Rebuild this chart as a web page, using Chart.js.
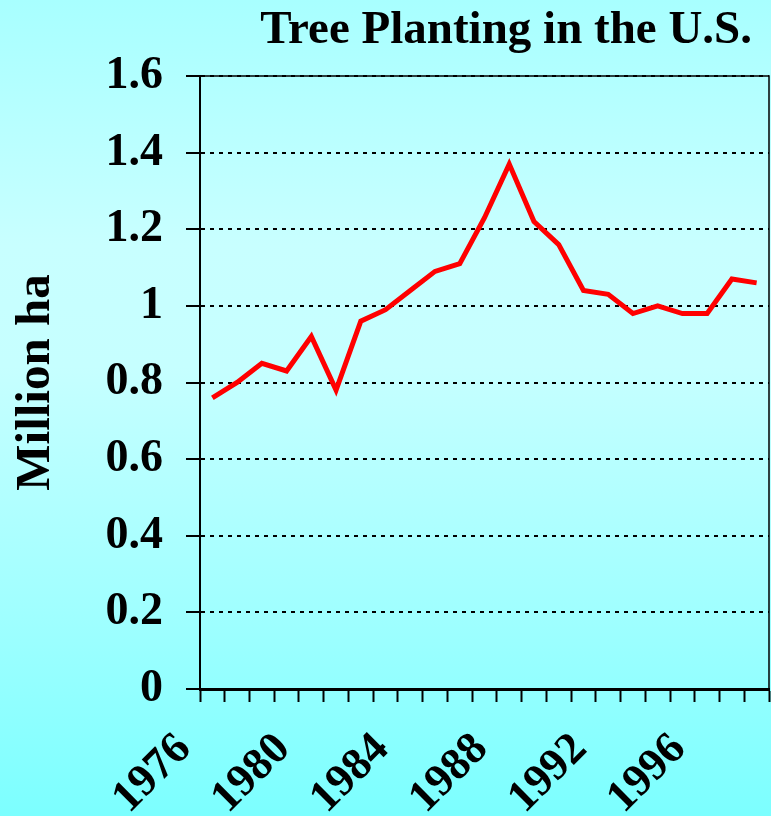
<!DOCTYPE html>
<html>
<head>
<meta charset="utf-8">
<script src="https://cdn.jsdelivr.net/npm/chart.js@4"></script>
<style>
  html, body { margin: 0; padding: 0; }
  body {
    width: 771px; height: 816px; overflow: hidden;
    background: linear-gradient(to bottom, #a8ffff 0%, #c8ffff 30%, #c6ffff 45%, #a0ffff 75%, #7cffff 100%);
  }
  #wrap { position: relative; width: 771px; height: 816px; }
  canvas { display: block; }
</style>
</head>
<body>
<div id="wrap"><canvas id="myChart" width="771" height="816"></canvas></div>
<script>
const years = ['1976', '1977', '1978', '1979', '1980', '1981', '1982', '1983', '1984', '1985', '1986', '1987',
  '1988', '1989', '1990', '1991', '1992', '1993', '1994', '1995', '1996', '1997', '1998'];
const shownYears = ['1976', '1980', '1984', '1988', '1992', '1996'];
const millionHa = [0.76, 0.80, 0.85, 0.83, 0.92, 0.78, 0.96, 0.99, 1.04, 1.09, 1.11, 1.23,
  1.37, 1.22, 1.16, 1.04, 1.03, 0.98, 1.00, 0.98, 0.98, 1.07, 1.06];
const yTicks = [0, 0.2, 0.4, 0.6, 0.8, 1, 1.2, 1.4, 1.6];

const serif = '"Liberation Serif", "Times New Roman", serif';

// title and plot frame, drawn by hand like the original slide
const slideBits = {
  id: 'slideBits',
  afterDraw(chart) {
    const { ctx, chartArea } = chart;
    ctx.save();
    ctx.strokeStyle = '#000';
    ctx.lineWidth = 1.5;
    ctx.beginPath();
    ctx.moveTo(chartArea.left, chartArea.top);
    ctx.lineTo(chartArea.right, chartArea.top);
    ctx.lineTo(chartArea.right, chartArea.bottom);
    ctx.stroke();
    ctx.fillStyle = '#000';
    ctx.font = 'bold 47px ' + serif;
    ctx.textAlign = 'right';
    ctx.textBaseline = 'alphabetic';
    ctx.fillText('Tree Planting in the U.S.', 752, 43);
    ctx.restore();
  }
};

const ctx = document.getElementById('myChart').getContext('2d');
const myChart = new Chart(ctx, {
  type: 'line',
  data: {
    labels: years,
    datasets: [{
      label: 'Tree planting',
      data: millionHa,
      borderColor: '#ff0000',
      borderWidth: 5,
      pointRadius: 0,
      tension: 0,
      fill: false
    }]
  },
  options: {
    responsive: false,
    animation: false,
    layout: { padding: { top: 76, right: 2, left: 0, bottom: 0 } },
    plugins: { legend: { display: false }, title: { display: false }, tooltip: { enabled: false } },
    scales: {
      x: {
        type: 'category',
        offset: true,
        afterFit: (scale) => {
          scale.height = 127;
          scale.paddingLeft = 0;
          scale.paddingRight = 0;
        },
        border: { display: true, color: '#000', width: 3 },
        grid: { offset: true, drawOnChartArea: false, drawTicks: true, tickLength: 13, tickColor: '#000', tickWidth: 2 },
        ticks: {
          autoSkip: false,
          maxRotation: 45,
          minRotation: 45,
          padding: 21,
          labelOffset: -28,
          color: '#000',
          font: { family: serif, size: 45, weight: 'bold' },
          callback: function (value) {
            const lab = this.getLabelForValue(value);
            return shownYears.includes(lab) ? lab : '';
          }
        }
      },
      y: {
        min: 0,
        max: 1.6,
        afterFit: (scale) => { scale.width = 200; },
        afterBuildTicks: (scale) => { scale.ticks = yTicks.map(v => ({ value: v })); },
        border: { display: true, color: '#000', width: 2, dash: [4, 5] },
        grid: {
          color: '#000',
          lineWidth: 2,
          drawTicks: true,
          tickLength: 14,
          tickColor: '#000',
          tickWidth: 2,
          tickBorderDash: []
        },
        ticks: {
          padding: 23,
          color: '#000',
          font: { family: serif, size: 46, weight: 'bold' },
          callback: (v) => String(Math.round(v * 10) / 10)
        },
        title: {
          display: true,
          text: 'Million ha',
          color: '#000',
          padding: { top: 7, bottom: 0 },
          font: { family: serif, size: 49, weight: 'bold' }
        }
      }
    }
  },
  plugins: [slideBits]
});
</script>
</body>
</html>
